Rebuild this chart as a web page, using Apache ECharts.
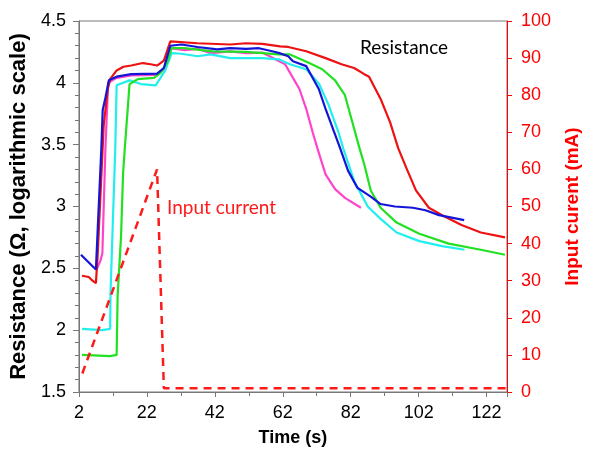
<!DOCTYPE html>
<html>
<head>
<meta charset="utf-8">
<script src="https://cdn.jsdelivr.net/npm/echarts@6/dist/echarts.min.js"></script>
<style>
	html, body { margin: 0; padding: 0; background: #fff; }
	#chart { width: 590px; height: 452px; }
</style>
</head>
<body>
<div id="chart"></div>
<script>
// resistance curves, time (s) / value
var tRed = [2.9, 4.9, 6.0, 7.0, 7.5, 9.3, 10.5, 11.2, 13.1, 15.1, 17.4, 20.8, 23.1, 25, 27, 28.9, 36.9, 46.5, 51.2, 56, 61.2, 63.6, 68.9, 74.6, 79.3, 83, 86, 87.4, 90.8, 93.6, 96, 98.4, 101.2, 105, 108.9, 114.6, 120.3, 127.4];
var rRed = [2.44, 2.43, 2.40, 2.38, 2.60, 3.66, 3.95, 4.03, 4.10, 4.13, 4.14, 4.16, 4.15, 4.14, 4.18, 4.335, 4.32, 4.31, 4.32, 4.315, 4.295, 4.29, 4.255, 4.20, 4.15, 4.12, 4.07, 4.05, 3.87, 3.68, 3.47, 3.31, 3.13, 2.99, 2.93, 2.85, 2.79, 2.75];

var tBlue = [2.6, 7.0, 8.6, 9.0, 9.8, 10.8, 13.1, 17.4, 25, 27, 28.9, 32.2, 36.9, 42.7, 46.5, 51.2, 55, 58.9, 61, 63.6, 65, 68.9, 72.6, 74.6, 78.9, 81.2, 84, 87.9, 90.8, 95, 100.3, 104, 108, 115.4];
var rBlue = [2.61, 2.49, 3.47, 3.78, 3.88, 4.02, 4.05, 4.07, 4.075, 4.12, 4.30, 4.31, 4.29, 4.27, 4.28, 4.275, 4.28, 4.255, 4.24, 4.215, 4.175, 4.135, 3.95, 3.79, 3.47, 3.29, 3.15, 3.08, 3.02, 3.00, 2.99, 2.97, 2.93, 2.89];

var tGreen = [2.9, 11.2, 13.1, 13.4, 14.4, 15.0, 15.5, 16.9, 19.3, 24.1, 26, 27.9, 29.3, 33.1, 41.4, 51.2, 60.8, 64.1, 69.8, 73.6, 77.4, 80.3, 82.2, 84.6, 86, 87.9, 90.8, 95.5, 102.2, 110.8, 120.3, 127.4];
var rGreen = [1.80, 1.79, 1.80, 2.28, 2.76, 3.27, 3.47, 3.99, 4.03, 4.04, 4.08, 4.16, 4.28, 4.28, 4.255, 4.25, 4.23, 4.23, 4.16, 4.11, 4.02, 3.90, 3.71, 3.47, 3.34, 3.13, 2.99, 2.87, 2.78, 2.70, 2.65, 2.61];

var tCyan = [2.9, 8.9, 11.2, 11.3, 12.7, 13.1, 16.9, 20.3, 24.6, 27.4, 29.3, 32.2, 36.9, 40.8, 46.5, 56, 60.8, 64.1, 68.9, 72.7, 75.5, 78.4, 79.8, 83.1, 87, 90.8, 95.5, 102.2, 108.9, 115.5];
var rCyan = [2.01, 2.00, 2.01, 2.30, 3.47, 3.98, 4.02, 3.99, 3.98, 4.10, 4.24, 4.235, 4.215, 4.23, 4.20, 4.20, 4.19, 4.15, 4.11, 3.99, 3.82, 3.60, 3.47, 3.20, 3.00, 2.90, 2.79, 2.72, 2.68, 2.65];

var tPink = [7.2, 8.3, 8.9, 9.8, 10.6, 13.1, 17.4, 25, 27, 29, 33.1, 36.9, 40.8, 46.5, 51.2, 56, 59.8, 62.7, 65, 66.9, 68.9, 70.8, 72.2, 74.6, 77.4, 80.3, 85];
var rPink = [2.49, 2.56, 2.62, 3.47, 4.00, 4.04, 4.06, 4.065, 4.11, 4.28, 4.265, 4.275, 4.24, 4.255, 4.24, 4.245, 4.19, 4.15, 4.04, 3.95, 3.79, 3.60, 3.47, 3.26, 3.14, 3.07, 2.99];

// input current (mA)
var tCurrent = [3, 25, 27, 128];
var iCurrent = [5, 60, 1, 1];

var xTicks = [2, 22, 42, 62, 82, 102, 122];

function pairs(xs, ys) {
	var out = [];
	for (var i = 0; i < xs.length; i++) {
		out.push([xs[i], ys[i]]);
	}
	return out;
}

function resLine(name, color, xs, ys) {
	return {
		name: name,
		type: 'line',
		yAxisIndex: 0,
		showSymbol: false,
		symbol: 'none',
		lineStyle: { color: color, width: 2.2 },
		data: pairs(xs, ys),
		z: 3
	};
}

var myChart = echarts.init(document.getElementById('chart'));
var axisFont = '"Liberation Sans", Arial, sans-serif';
var option = {
	backgroundColor: '#fff',
	animation: false,
	grid: {
		left: 76,
		right: 72,
		top: 21,
		bottom: 55,
		show: true,
		borderColor: '#777',
		borderWidth: 1
	},
	xAxis: {
		type: 'value',
		min: 2,
		max: 128,
		interval: 20,
		name: 'Time (s)',
		nameLocation: 'middle',
		nameGap: 37,
		nameTextStyle: { fontFamily: axisFont, fontSize: 18, fontWeight: 'bold', color: '#000' },
		axisLine: { lineStyle: { color: '#777', width: 1 } },
		axisTick: { length: 5, lineStyle: { color: '#777' } },
		minorTick: { show: true, splitNumber: 2, length: 4, lineStyle: { color: '#777' } },
		splitLine: { show: false },
		axisLabel: {
			margin: 12,
			fontFamily: axisFont,
			fontSize: 18,
			color: '#000',
			showMaxLabel: false,
			formatter: function(v) {
				return xTicks.indexOf(v) >= 0 ? String(v) : '';
			}
		}
	},
	yAxis: [{
			type: 'value',
			min: 1.5,
			max: 4.5,
			interval: 0.5,
			position: 'left',
			name: 'Resistance (Ω, logarithmic scale)',
			nameLocation: 'middle',
			nameGap: 45,
			nameTextStyle: { fontFamily: axisFont, fontSize: 22, fontWeight: 'bold', color: '#000' },
			axisLine: { show: true, lineStyle: { color: '#777', width: 1 } },
			axisTick: { show: true, length: 6, lineStyle: { color: '#777' } },
			minorTick: { show: true, splitNumber: 5, length: 4, lineStyle: { color: '#777' } },
			splitLine: { show: false },
			axisLabel: {
				margin: 13,
				fontFamily: axisFont,
				fontSize: 18,
				color: '#000',
				formatter: function(v) {
					return String(v);
				}
			}
		},
		{
			type: 'value',
			min: 0,
			max: 100,
			interval: 10,
			position: 'right',
			name: 'Input curent (mA)',
			nameLocation: 'middle',
			nameGap: 56,
			nameRotate: 90,
			nameTextStyle: { fontFamily: axisFont, fontSize: 19, fontWeight: 'bold', color: '#ff0000' },
			axisLine: { show: true, lineStyle: { color: '#ff0000', width: 1 } },
			axisTick: { show: true, length: 5, lineStyle: { color: '#ff0000' } },
			splitLine: { show: false },
			axisLabel: {
				margin: 14,
				fontFamily: axisFont,
				fontSize: 18,
				color: '#ff0000'
			}
		}
	],
	graphic: [{
			type: 'text',
			left: 360,
			top: 38,
			style: { text: 'Resistance', fontFamily: 'Lato, sans-serif', fontSize: 19, fill: '#000' }
		},
		{
			type: 'text',
			left: 167,
			top: 198,
			style: { text: 'Input current', fontFamily: 'Lato, sans-serif', fontSize: 19, fill: '#ff1a1a' }
		}
	],
	series: [
		resLine('pink', '#ff44cc', tPink, rPink),
		resLine('cyan', '#22eeee', tCyan, rCyan),
		resLine('green', '#22e022', tGreen, rGreen),
		resLine('red', '#ee1111', tRed, rRed),
		resLine('blue', '#1515d8', tBlue, rBlue),
		{
			name: 'Input current',
			type: 'line',
			yAxisIndex: 1,
			showSymbol: false,
			symbol: 'none',
			lineStyle: { color: '#ff1a1a', width: 2.5, type: [8, 6] },
			data: pairs(tCurrent, iCurrent),
			z: 4
		}
	]
};
myChart.setOption(option);
</script>
</body>
</html>
